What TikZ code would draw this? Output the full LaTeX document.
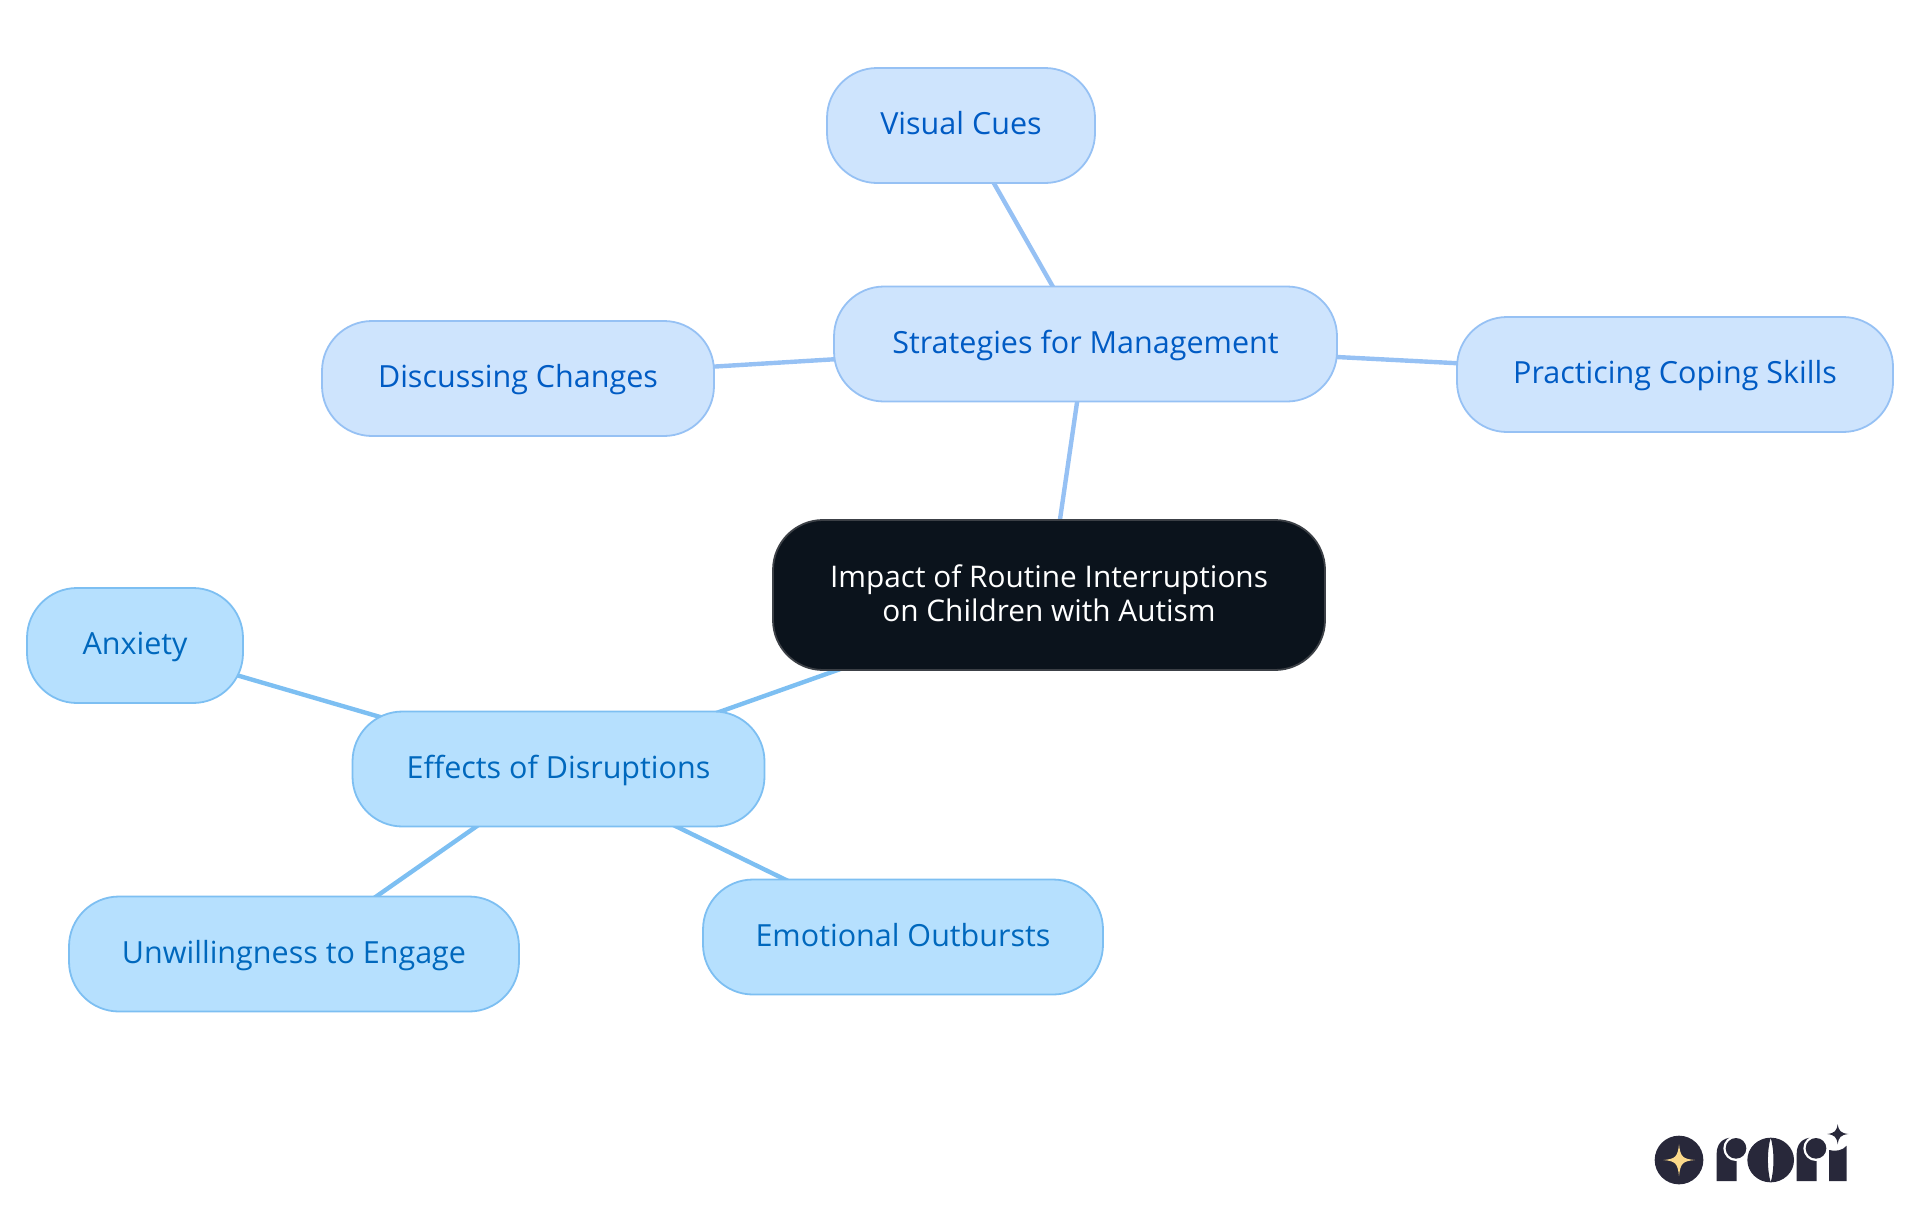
\documentclass[tikz,border=0pt]{standalone}
\usepackage{fontspec}
\setmainfont{Open Sans}
\usetikzlibrary{backgrounds}
\definecolor{topfill}{HTML}{CEE4FD}
\definecolor{topline}{HTML}{96C1F4}
\definecolor{toptext}{HTML}{005BC4}
\definecolor{botfill}{HTML}{B6E0FE}
\definecolor{botline}{HTML}{7DBFF2}
\definecolor{bottext}{HTML}{0068BD}
\definecolor{rootfill}{HTML}{0B131C}
\definecolor{rootline}{HTML}{3C4046}
\definecolor{logodark}{HTML}{28283A}
\definecolor{logogold}{HTML}{FBD98A}
\tikzset{
  basebox/.style={rounded corners=25pt,line width=0.9pt,inner sep=0pt,minimum height=57.5pt,
    font=\fontsize{15.25pt}{17pt}\selectfont,text height=12.6pt,text depth=3.4pt},
  topbox/.style={basebox,draw=topline,fill=topfill,text=toptext},
  botbox/.style={basebox,draw=botline,fill=botfill,text=bottext},
  rootbox/.style={basebox,draw=rootline,fill=rootfill,text=white,align=center,text height=,text depth=,minimum height=75pt,
    font=\fontsize{14.9pt}{17.1pt}\selectfont},
  toplink/.style={draw=topline,line width=2.2pt},
  botlink/.style={draw=botline,line width=2.2pt},
  logopart/.style={fill=logodark},
  logogap/.style={fill=white},
}
\begin{document}
\begin{tikzpicture}[x=0.5pt,y=-0.5pt]
\useasboundingbox (0,0) rectangle (1920,1215);
\node[rootbox,minimum width=276pt] (root) at (1049,595) {Impact of Routine Interruptions\\on Children with Autism\rule[-2pt]{0pt}{2pt}};
\node[topbox,minimum width=251.5pt] (strat) at (1085.5,344) {Strategies for Management};
\node[topbox,minimum width=134pt] (visual) at (961,125.5) {Visual Cues};
\node[topbox,minimum width=196pt] (discuss) at (518,378.5) {Discussing Changes};
\node[topbox,minimum width=218pt] (coping) at (1675,374.5) {Practicing Coping Skills};
\node[botbox,minimum width=206pt] (effects) at (558.5,769) {Effects of Disruptions};
\node[botbox,minimum width=108pt] (anxiety) at (135,645.5) {Anxiety};
\node[botbox,minimum width=225pt] (unwill) at (294,954) {Unwillingness to Engage};
\node[botbox,minimum width=200pt] (emotion) at (903,937) {Emotional Outbursts};
\begin{pgfonlayer}{background}
\draw[toplink] (root.center) -- (strat.center);
\draw[toplink] (strat.center) -- (visual.center);
\draw[toplink] (strat.center) -- (discuss.center);
\draw[toplink] (strat.center) -- (coping.center);
\draw[botlink] (root.center) -- (effects.center);
\draw[botlink] (effects.center) -- (anxiety.center);
\draw[botlink] (effects.center) -- (unwill.center);
\draw[botlink] (effects.center) -- (emotion.center);
\end{pgfonlayer}
% logo
\begin{scope}[shift={(1620,1100)},x=0.16667pt,y=-0.16667pt]
\fill[logopart] (177,180) circle[radius=73];
\fill[logogold] (177,133) .. controls (181,170) and (188,177) .. (225,180) .. controls (188,183) and (181,190) .. (177,228) .. controls (173,190) and (166,183) .. (130,180) .. controls (166,177) and (173,170) .. (177,133) -- cycle;
% first r
\fill[logopart] (290,243) -- (290,160) .. controls (290,132) and (308,113) .. (335,113) -- (350,113) -- (350,243) -- cycle;
\fill[logogap] (348,145) circle[radius=38];
\fill[logopart] (348,145) circle[radius=31];
% o
\fill[logopart,even odd rule] (452,180) ellipse[x radius=70,y radius=67]
  (452,113) .. controls (441,150) and (441,210) .. (452,247) .. controls (463,210) and (463,150) .. (452,113) -- cycle;
% second r
\fill[logopart] (530,243) -- (530,160) .. controls (530,132) and (548,113) .. (575,113) -- (590,113) -- (590,243) -- cycle;
\fill[logogap] (588,145) circle[radius=38];
\fill[logopart] (588,145) circle[radius=31];
% i
\fill[logopart] (627,243) -- (627,150) .. controls (645,155) and (668,152) .. (680,137) -- (680,243) -- cycle;
\fill[logopart] (653,72) .. controls (656,93) and (662,99) .. (685,102) .. controls (662,105) and (656,111) .. (653,133) .. controls (650,111) and (644,105) .. (622,102) .. controls (644,99) and (650,93) .. (653,72) -- cycle;
\end{scope}
\end{tikzpicture}
\end{document}
